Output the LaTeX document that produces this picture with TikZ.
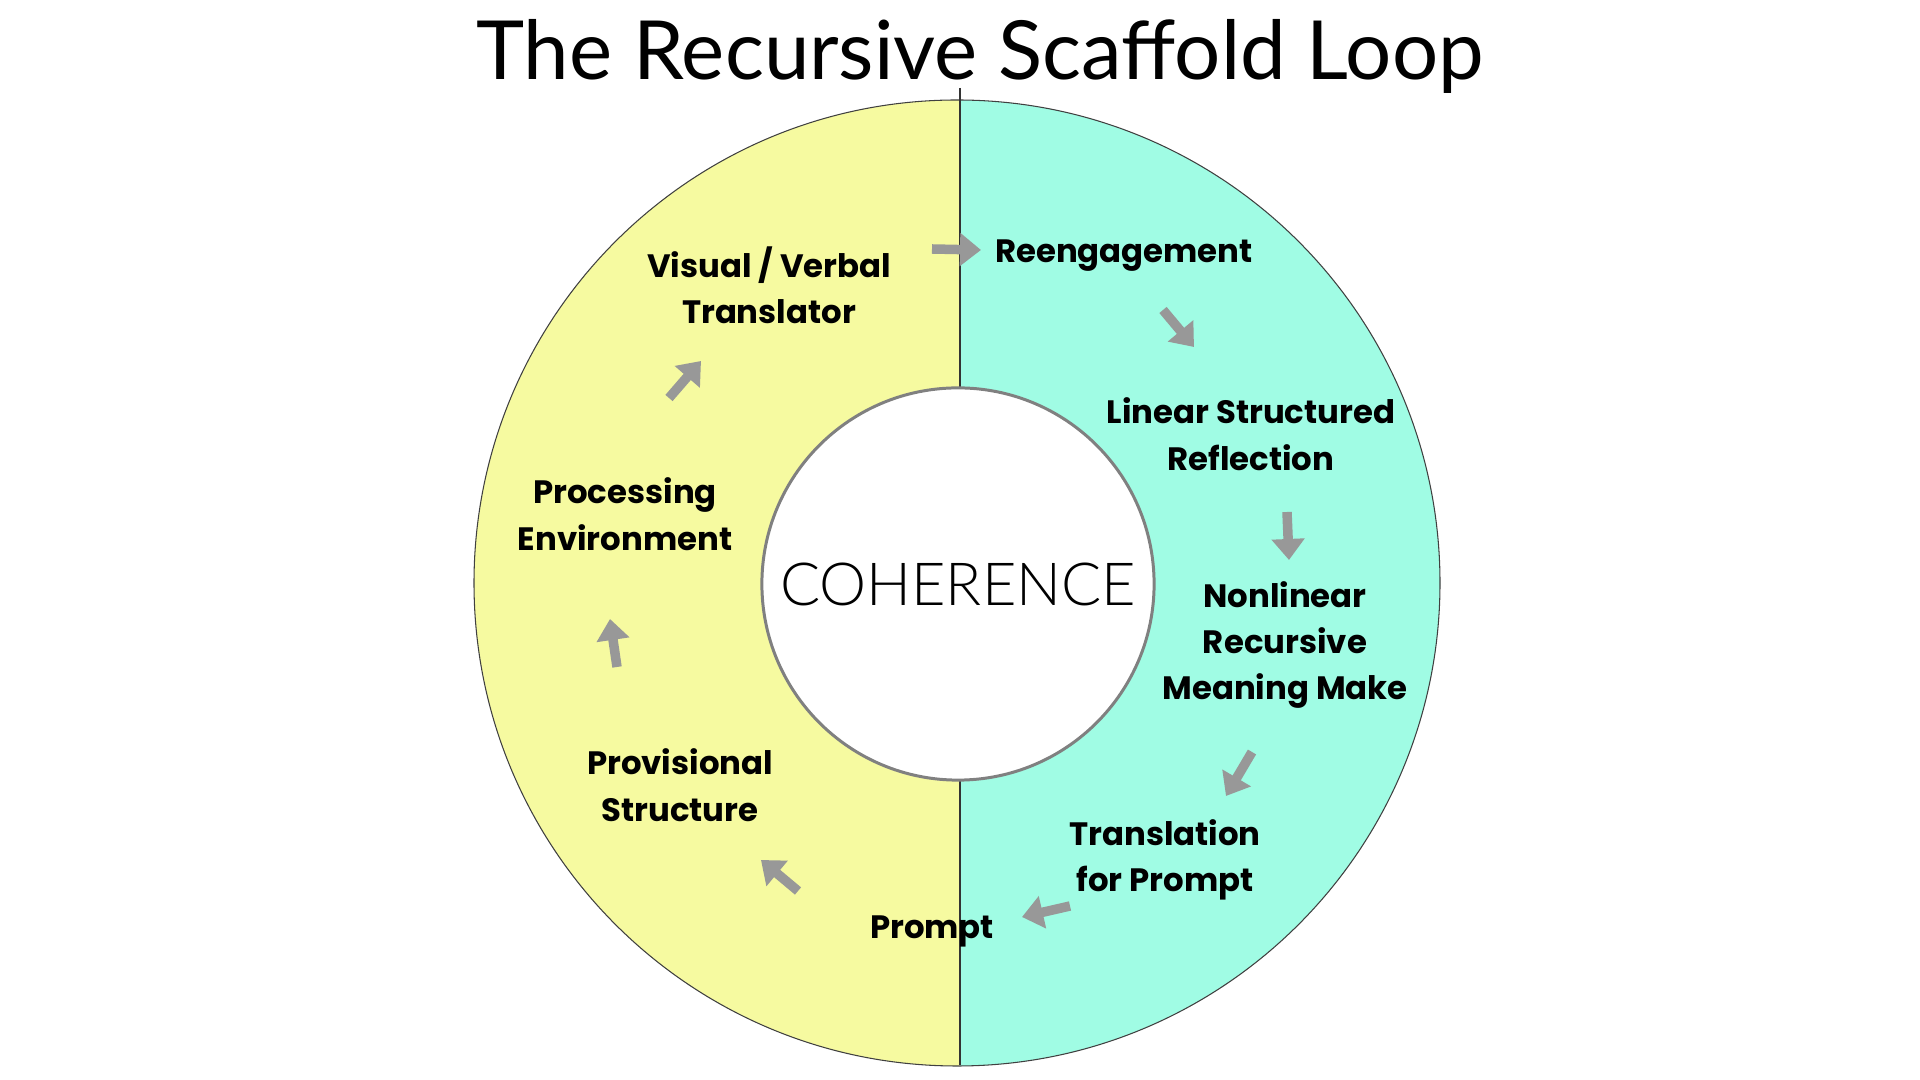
\documentclass[tikz,border=0pt]{standalone}
\usepackage{fontspec}
\setmainfont{Lato}
\newfontfamily\stepfont{Poppins}
\newfontfamily\corefont{Lato Light}
\usetikzlibrary{arrows.meta,positioning}
\definecolor{loopYellow}{RGB}{246,250,160}
\definecolor{loopMint}{RGB}{160,252,228}
\definecolor{arrowGray}{RGB}{152,152,152}
\definecolor{ringGray}{RGB}{128,128,128}

\begin{document}
\begin{tikzpicture}[
  x=0.01cm, y=-0.01cm,
  step label/.style={align=center, font=\stepfont\fontsize{9.2}{13.2}\selectfont\bfseries,
                     inner sep=0pt},
  flow/.style={arrowGray, line width=0.095cm,
               -{Triangle[width=0.32cm,length=0.21cm]}},
  core/.style={circle, draw=ringGray, line width=0.85pt, fill=white,
               minimum size=3.92cm, inner sep=0pt,
               font=\corefont\fontsize{16.9}{20}\selectfont}
]
  \useasboundingbox (0,0) rectangle (1920,1080);
  \coordinate (c) at (957,583);

  % two halves of the ring
  \begin{scope}
    \clip (c) circle (483);
    \fill[loopYellow] (0,0) rectangle (960,1080);
    \fill[loopMint] (960,0) rectangle (1920,1080);
  \end{scope}
  \draw[black!75, line width=0.3pt] (c) circle (483);
  \draw[black!80, line width=0.3pt] (960,88) -- (960,1065);

  \node[core] (core) at (958,584) {COHERENCE};

  \node[font=\fontsize{23.2}{26}\selectfont, anchor=base] (title) at (980,80)
    {The Recursive Scaffold Loop};

  % steps of the loop
  \node[step label] (visual) at (769,285) {Visual / Verbal\\Translator};
  \node[step label] (reeng) at (1124,256) {Reengagement};
  \node[step label] (linear) at (1251,434) {Linear Structured\\Reflection};
  \node[step label] (nonlin) at (1285,645) {Nonlinear\\Recursive\\Meaning Make};
  \node[step label] (transl) at (1165,860) {Translation\\for Prompt};
  \node[step label] (prompt) at (932,931) {Prompt};
  \node[step label] (provis) at (680,785) {Provisional\\Structure};
  \node[step label] (proc) at (625,514) {Processing\\Environment};

  % arrow ends
  \coordinate (a1) at (932,249);  \coordinate (b1) at (981,250);
  \coordinate (a2) at (1163,310); \coordinate (b2) at (1194,347);
  \coordinate (a3) at (1287,512); \coordinate (b3) at (1289,560);
  \coordinate (a4) at (1252,752); \coordinate (b4) at (1226,796);
  \coordinate (a5) at (1070,906); \coordinate (b5) at (1022,917);
  \coordinate (a6) at (798,891);  \coordinate (b6) at (761,860);
  \coordinate (a7) at (617,667);  \coordinate (b7) at (610,619);
  \coordinate (a8) at (669,398);  \coordinate (b8) at (701,361);

  \foreach \i in {1,...,8}
    \draw[flow] (a\i) -- (b\i);
\end{tikzpicture}
\end{document}
